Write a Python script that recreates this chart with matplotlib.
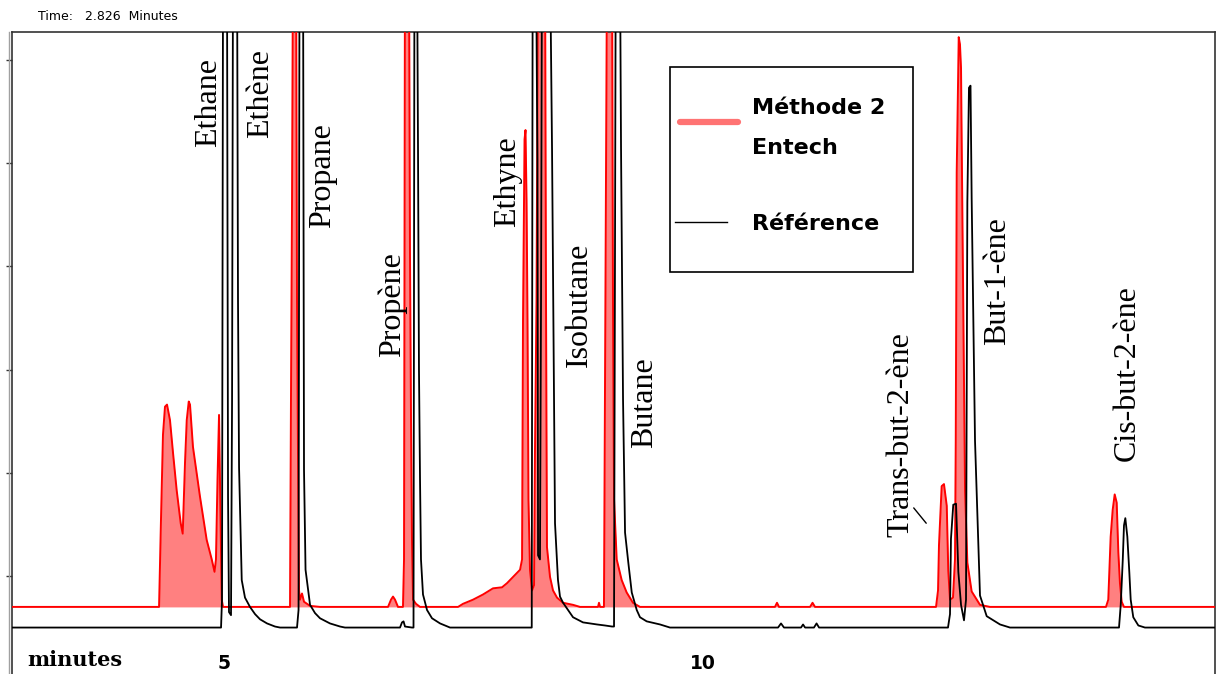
import matplotlib
matplotlib.use("Agg")
import matplotlib.pyplot as plt
from matplotlib.lines import Line2D
from matplotlib.patches import Rectangle

# ---------------- data (time in minutes, signal in arbitrary units) ----------------
entech_time = [2.787, 4.311, 4.322, 4.342, 4.363, 4.384, 4.405, 4.436, 4.468, 4.506,
               4.548, 4.569, 4.593, 4.611, 4.632, 4.645, 4.676, 4.749, 4.819, 4.872,
               4.901, 4.916, 4.932, 4.948, 4.958, 4.976, 4.990,
               5.689, 5.699, 5.710, 5.720, 5.752, 5.762, 5.772, 5.783, 5.793, 5.814,
               5.835, 5.898, 6.002,
               6.712, 6.743, 6.764, 6.785, 6.816, 6.868, 6.879, 6.889, 6.931, 6.941,
               6.952, 6.962, 6.973, 7.004, 7.046,
               7.443, 7.495, 7.599, 7.703, 7.808, 7.902, 7.954, 8.017, 8.090, 8.111,
               8.121, 8.137, 8.147, 8.158, 8.168, 8.178, 8.194, 8.215, 8.236, 8.246,
               8.262, 8.278, 8.351, 8.361, 8.371, 8.403, 8.434, 8.476, 8.539, 8.643,
               8.716,
               8.904, 8.914, 8.925, 8.966, 8.982, 8.998, 9.050, 9.060, 9.071, 9.099,
               9.151, 9.203, 9.269, 9.342,
               10.751, 10.772, 10.793, 11.117, 11.143, 11.169,
               12.432, 12.453, 12.463, 12.491, 12.515, 12.544, 12.560, 12.578, 12.609,
               12.630, 12.638, 12.648, 12.669, 12.682, 12.693, 12.703, 12.735, 12.759,
               12.804, 12.891, 12.995,
               14.206, 14.230, 14.255, 14.276, 14.297, 14.318, 14.335, 14.352, 14.370,
               14.394, 15.344]
entech_signal = [70, 70, 70, 154, 237, 264, 266, 251, 219, 183,
                 151, 141, 210, 251, 269, 266, 225, 177, 135, 116,
                 104, 116, 193, 256, 193, 77, 70,
                 70, 271, 464, 700, 700, 367, 222, 86, 77, 83,
                 75, 71, 70,
                 70, 77, 80, 77, 70, 70, 116, 700, 700, 416,
                 251, 135, 77, 73, 70,
                 70, 73, 77, 82, 88, 89, 93, 99, 106, 116,
                 348, 523, 532, 464, 348, 174, 106, 86, 91, 222,
                 367, 700, 700, 367, 128, 99, 86, 79, 74, 72,
                 70,
                 70, 74, 70, 70, 377, 700, 700, 367, 174, 116,
                 96, 84, 74, 70,
                 70, 74, 70, 70, 74, 70,
                 70, 86, 130, 187, 189, 168, 105, 77, 79,
                 116, 231, 491, 622, 615, 592, 491, 183, 113,
                 85, 72, 70,
                 70, 77, 138, 164, 179, 171, 123, 93, 75,
                 70, 70]
entech_baseline = 70

reference_time = [2.787, 4.969, 4.979, 4.990, 5.031, 5.042, 5.052, 5.073, 5.084, 5.094,
                  5.136, 5.146, 5.157, 5.185, 5.219, 5.271, 5.324, 5.376, 5.449, 5.532,
                  5.585,
                  5.762, 5.778, 5.788, 5.825, 5.835, 5.851, 5.898, 5.950, 6.002, 6.106,
                  6.211, 6.263,
                  6.837, 6.858, 6.874, 6.889, 6.962, 6.978, 6.988, 7.015, 7.025, 7.035,
                  7.046, 7.056, 7.077, 7.119, 7.171, 7.255, 7.359,
                  8.212, 8.222, 8.257, 8.267, 8.272, 8.278, 8.298, 8.309, 8.319, 8.403,
                  8.424, 8.455, 8.486, 8.507, 8.539, 8.591, 8.643, 8.747, 8.893, 8.977,
                  9.050, 9.071, 9.089, 9.133, 9.144, 9.165, 9.186, 9.220, 9.256, 9.308,
                  9.342, 9.412, 9.551, 9.655,
                  10.783, 10.814, 10.845, 11.023, 11.044, 11.065, 11.158, 11.185, 11.211,
                  12.557, 12.578, 12.588, 12.612, 12.641, 12.665, 12.693, 12.724, 12.745,
                  12.759, 12.776, 12.792, 12.804, 12.839, 12.891, 12.961, 13.100, 13.204,
                  14.342, 14.360, 14.381, 14.394, 14.408, 14.429, 14.450, 14.464, 14.491,
                  14.544, 14.613, 15.344]
reference_signal = [50, 50, 77, 700, 700, 177, 65, 62, 270, 700,
                    700, 367, 205, 96, 79, 70, 63, 58, 54, 51,
                    50,
                    50, 67, 700, 700, 203, 106, 72, 64, 59, 54,
                    51, 50,
                    50, 55, 56, 51, 50, 50, 700, 700, 513, 300,
                    193, 116, 82, 67, 59, 54, 50,
                    50, 700, 700, 561, 503, 120, 116, 367, 700, 700,
                    513, 151, 96, 80, 74, 67, 60, 55, 53, 52,
                    51, 51, 700, 700, 516, 271, 142, 113, 84, 67,
                    60, 56, 53, 50,
                    50, 54, 50, 50, 53, 50, 50, 54, 50,
                    50, 63, 136, 169, 170, 104, 72, 57, 77,
                    462, 573, 575, 466, 231, 81, 61, 53, 50,
                    50, 72, 115, 149, 156, 138, 103, 77, 60,
                    52, 50, 50]

peak_names = ["Ethane", "Ethène", "Propane", "Propène", "Ethyne", "Isobutane",
              "Butane", "Trans-but-2-ène", "But-1-ène", "Cis-but-2-ène"]
label_time = [4.916, 5.459, 6.106, 6.837, 8.037, 8.789, 9.467, 12.140, 13.152, 14.509]
label_signal = [516, 524, 437, 312, 438, 302, 224, 138, 324, 211]
trans_leader_from = (12.181, 168)
trans_leader_to = (12.348, 149)

x_ticks = [5, 10]
x_tick_labels = ["5", "10"]
y_ticks = [100, 200, 300, 400, 500, 600]
series_names = ["Méthode 2\nEntech", "Référence"]

# ---------------- layout ----------------
W, H = 1217, 674
fig = plt.figure(figsize=(W / 100, H / 100), dpi=100)
fig.patch.set_facecolor("white")


def fx(px):
    return px / W


def fy(py):
    return 1 - py / H


ax = fig.add_axes([fx(12), 0, fx(1215) - fx(12), fy(32)])
ax.set_xlim(2.787, 15.344)
ax.set_ylim(5, 627)

ax.fill_between(entech_time, entech_signal, entech_baseline,
                color="#FF8080", lw=0, zorder=1)
ax.plot(entech_time, entech_signal, color="#FF0000", lw=1.4, zorder=3,
        label=series_names[0])
ax.plot(reference_time, reference_signal, color="black", lw=1.3, zorder=4,
        label=series_names[1])

for name, t, s in zip(peak_names, label_time, label_signal):
    ax.text(t, s, name, rotation=90, rotation_mode="anchor", ha="left",
            va="baseline", fontsize=23, family="Liberation Serif", zorder=6)
ax.annotate("", xy=trans_leader_to, xytext=trans_leader_from,
            arrowprops=dict(arrowstyle="-", lw=1, color="black"))

for side in ["left", "top", "right"]:
    ax.spines[side].set_color("#333333")
    ax.spines[side].set_linewidth(1.2)
ax.spines["bottom"].set_visible(False)

ax.set_xticks(x_ticks, x_tick_labels)
ax.tick_params(axis="x", length=0, pad=-14.5, labelsize=13.5)
for lbl in ax.get_xticklabels():
    lbl.set_fontweight("bold")
    lbl.set_family("DejaVu Sans")
ax.set_yticks(y_ticks)
ax.set_yticklabels([])
ax.tick_params(axis="y", direction="out", length=4.5, width=1, color="#333333")

fig.add_artist(Line2D([fx(8.5), fx(8.5)], [0, fy(32)], color="#A0A0A0", lw=1,
                      transform=fig.transFigure))

fig.text(fx(38), fy(17), "Time:   2.826  Minutes", fontsize=9, ha="left",
         va="center", family="DejaVu Sans")
fig.text(fx(27), fy(660), "minutes", fontsize=15, weight="bold",
         family="DejaVu Serif", ha="left", va="center")

# legend box
fig.add_artist(Rectangle((fx(670), fy(272)), fx(913) - fx(670), fy(67) - fy(272),
                         transform=fig.transFigure, facecolor="white",
                         edgecolor="black", lw=1.2, zorder=7))
fig.add_artist(Line2D([fx(680), fx(738)], [fy(122), fy(122)], color="#FF7373",
                      lw=4.5, solid_capstyle="round", transform=fig.transFigure,
                      zorder=8))
fig.add_artist(Line2D([fx(675), fx(727)], [fy(222), fy(222)], color="black",
                      lw=1, transform=fig.transFigure, zorder=8))
leg_font = dict(fontsize=16, weight="bold", family="DejaVu Sans", ha="left",
                va="center", zorder=9)
fig.text(fx(752), fy(108), "Méthode 2", **leg_font)
fig.text(fx(752), fy(148), "Entech", **leg_font)
fig.text(fx(752), fy(224), series_names[1], **leg_font)

fig.savefig("out.png", dpi=100)
